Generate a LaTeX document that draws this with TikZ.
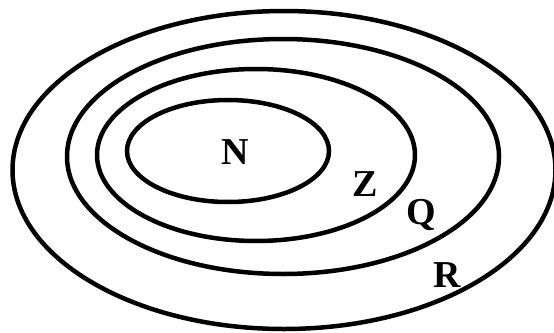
\documentclass[tikz,border=0pt]{standalone}
\usepackage{fontspec}
\setmainfont{Liberation Serif}
\begin{document}
\begin{tikzpicture}[x=1pt,y=-1pt,
  setline/.style={line width=4.5pt, draw=black},
  setlabel/.style={font=\fontsize{38}{42}\selectfont\bfseries, inner sep=0pt}]
\useasboundingbox (0,0) rectangle (554,332);
\draw[setline] (284,170) ellipse [x radius=271.5, y radius=159];
\draw[setline] (283,156.5) ellipse [x radius=216, y radius=117.5];
\draw[setline] (256,155) ellipse [x radius=159, y radius=86];
\draw[setline] (228,151) ellipse [x radius=101, y radius=51];
\node[setlabel] (N) at (235.5,152) {N};
\node[setlabel] (Z) at (365,184) {Z};
\node[setlabel] (Q) at (421,215) {Q};
\node[setlabel] (R) at (447,275) {R};
\end{tikzpicture}
\end{document}
